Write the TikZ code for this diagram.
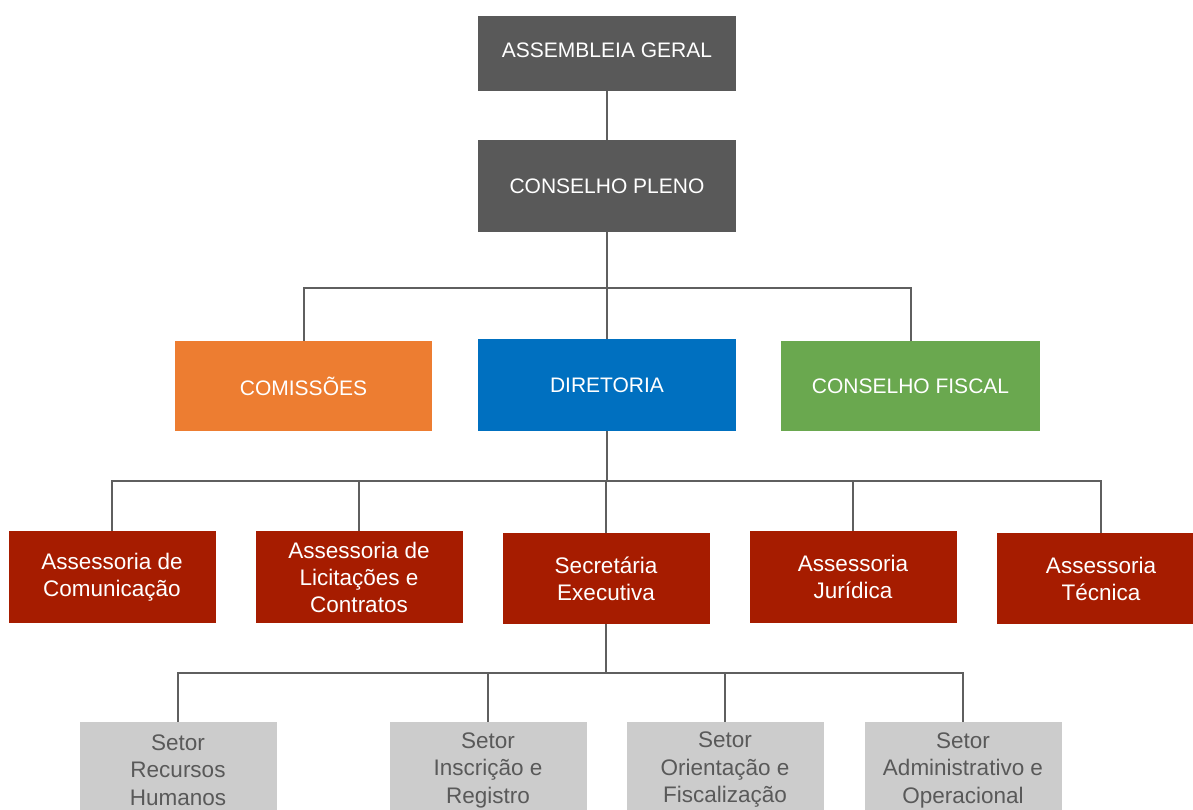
\documentclass[tikz,border=0pt]{standalone}
\usepackage{fontspec}
\setmainfont{Liberation Sans}
\definecolor{cgray}{HTML}{595959}
\definecolor{corange}{HTML}{ED7D31}
\definecolor{cblue}{HTML}{0070C0}
\definecolor{cgreen}{HTML}{6AA84F}
\definecolor{cred}{HTML}{A61C00}
\definecolor{clight}{HTML}{CCCCCC}
\definecolor{cline}{HTML}{5F5F5F}
\begin{document}
\begin{tikzpicture}[x=1pt,y=-1pt,
  box/.style={rectangle,inner sep=0pt,align=center,text=white,font=\fontsize{21}{26}\selectfont},
  topbox/.style={box,fill=cgray,minimum width=258pt,minimum height=92pt},
  midbox/.style={box,minimum width=258pt,minimum height=91pt},
  redbox/.style={box,fill=cred,minimum width=207pt,minimum height=92pt,font=\fontsize{22.5}{27}\selectfont},
  setbox/.style={box,fill=clight,text=cgray,minimum width=197pt,minimum height=96pt,font=\fontsize{22.5}{27.5}\selectfont},
  conn/.style={draw=cline,line width=2pt}]
\useasboundingbox (0,0) rectangle (1193,810);
\clip (0,0) rectangle (1193,810);
\node[topbox,minimum height=75pt] (ag) at (607,53.5) {\raisebox{7pt}{ASSEMBLEIA GERAL}};
\node[topbox] (cp) at (607,186) {CONSELHO PLENO};
\node[midbox,fill=corange,minimum width=257pt,minimum height=90pt] (com) at (303.5,386) {COMISSÕES};
\node[midbox,fill=cblue,minimum height=92pt] (dir) at (607,385) {DIRETORIA};
\node[midbox,fill=cgreen,minimum width=259pt,minimum height=90pt] (cf) at (910.5,386) {CONSELHO FISCAL};
\node[redbox] (acom) at (112,577) {Assessoria de\\Comunicação};
\node[redbox] (alic) at (359,577) {Assessoria de\\Licitações e\\Contratos};
\node[redbox,minimum height=91pt] (sec) at (606,578.5) {Secretária\\Executiva};
\node[redbox] (ajur) at (853,577) {Assessoria\\Jurídica};
\node[redbox,minimum width=196pt,minimum height=91pt] (atec) at (1095,578.5) {\hspace*{12pt}Assessoria\\\hspace*{12pt}Técnica};
\node[setbox] (srh) at (178,770) {Setor\\Recursos\\Humanos};
\node[setbox] (sins) at (488,770) {Setor\\Inscrição e\\Registro};
\node[setbox] (sori) at (725,770) {Setor\\Orientação e\\Fiscalização};
\node[setbox] (sadm) at (963,770) {Setor\\Administrativo e\\Operacional};
% connectors
\draw[conn] (ag.south) -- (cp.north);
\coordinate (j1) at (607,288);
\draw[conn] (cp.south) -- (j1);
\draw[conn] (com.north) |- (j1) -| (cf.north);
\draw[conn] (j1) -- (dir.north);
\coordinate (j2) at (607,481);
\draw[conn] (dir.south) -- (j2);
\draw[conn] (acom.north) |- (j2) -| ([xshift=6pt]atec.north);
\draw[conn] (alic.north) -- (alic.north |- j2);
\draw[conn] (ajur.north) -- (ajur.north |- j2);
\draw[conn] (sec.north) -- (sec.north |- j2);
\coordinate (j3) at (606,673);
\draw[conn] (sec.south) -- (j3);
\draw[conn] (srh.north) |- (j3) -| (sadm.north);
\draw[conn] (sins.north) -- (sins.north |- j3);
\draw[conn] (sori.north) -- (sori.north |- j3);
\end{tikzpicture}
\end{document}
